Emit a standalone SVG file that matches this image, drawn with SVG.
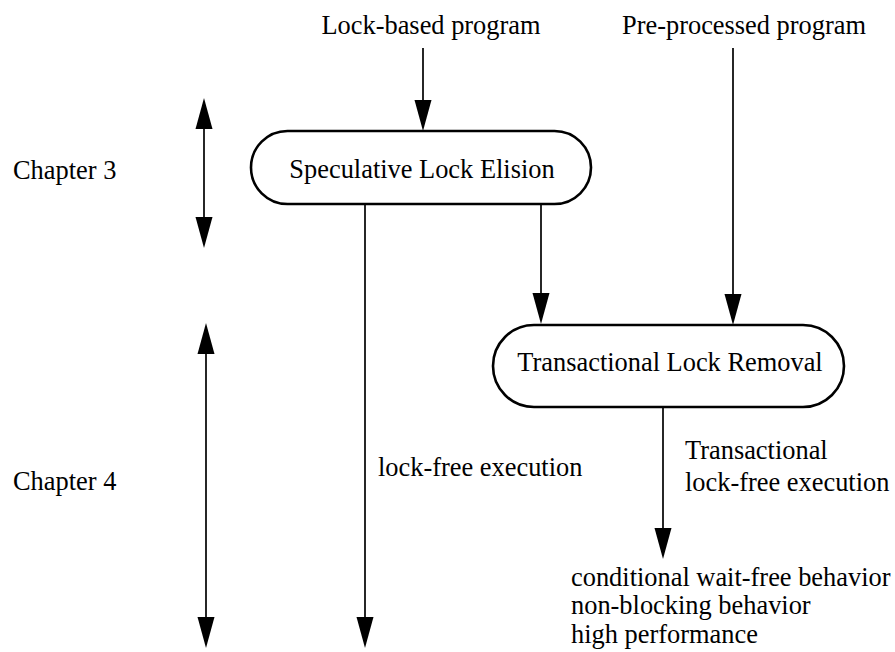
<svg xmlns="http://www.w3.org/2000/svg" width="895" height="652" viewBox="0 0 895 652">
  <defs>
    <!-- solid arrowhead; reference point sits at the base so lines stop there -->
    <marker id="head" markerUnits="userSpaceOnUse" markerWidth="32" markerHeight="18" refX="0" refY="8.5" orient="auto-start-reverse" viewBox="0 0 32 17">
      <path d="M0,0 L31,8.5 L0,17 Z" fill="#000"/>
    </marker>
  </defs>
  <style>
    text { font-family: "Liberation Serif", "Times New Roman", serif; font-size: 26.4px; fill: #000; }
    .box { fill: #fff; stroke: #000; stroke-width: 2.6; }
    .edge { fill: none; stroke: #000; stroke-width: 1.7; }
    .arrow { marker-end: url(#head); }
    .both { marker-start: url(#head); marker-end: url(#head); }
  </style>

  <rect width="895" height="652" fill="#fff"/>

  <!-- input labels -->
  <g id="input-lock-based">
    <text x="431" y="34" text-anchor="middle">Lock-based program</text>
  </g>
  <g id="input-preprocessed">
    <text x="744" y="34" text-anchor="middle">Pre-processed program</text>
  </g>

  <!-- chapter ranges -->
  <g id="chapter3">
    <text x="13" y="179">Chapter 3</text>
  </g>
  <g id="chapter4">
    <text x="13" y="490">Chapter 4</text>
  </g>

  <!-- processing nodes -->
  <g id="sle">
    <rect class="box" x="251" y="131" width="340" height="73" rx="36.5" ry="36.5"/>
    <text x="422" y="178" text-anchor="middle">Speculative Lock Elision</text>
  </g>
  <g id="tlr">
    <rect class="box" x="493" y="325" width="351" height="82" rx="41" ry="41"/>
    <text x="670" y="371" text-anchor="middle">Transactional Lock Removal</text>
  </g>

  <!-- edge labels and results -->
  <g id="lock-free-label">
    <text x="378" y="476">lock-free execution</text>
  </g>
  <g id="tlr-output-label">
    <text x="685" y="459">Transactional</text>
    <text x="685" y="491">lock-free execution</text>
  </g>
  <g id="tlr-results">
    <text x="571" y="586">conditional wait-free behavior</text>
    <text x="571" y="614">non-blocking behavior</text>
    <text x="571" y="643">high performance</text>
  </g>

  <!-- connectors -->
  <g id="connectors">
    <line class="edge arrow" x1="423" y1="48" x2="423" y2="100"/>
    <line class="edge arrow" x1="733" y1="48" x2="733" y2="294"/>
    <line class="edge arrow" x1="541" y1="204" x2="541" y2="293"/>
    <line class="edge arrow" x1="365" y1="204" x2="365" y2="617"/>
    <line class="edge arrow" x1="663" y1="407" x2="663" y2="528"/>
    <line class="edge both" x1="204" y1="129" x2="204" y2="217"/>
    <line class="edge both" x1="206" y1="354" x2="206" y2="617"/>
  </g>
</svg>
